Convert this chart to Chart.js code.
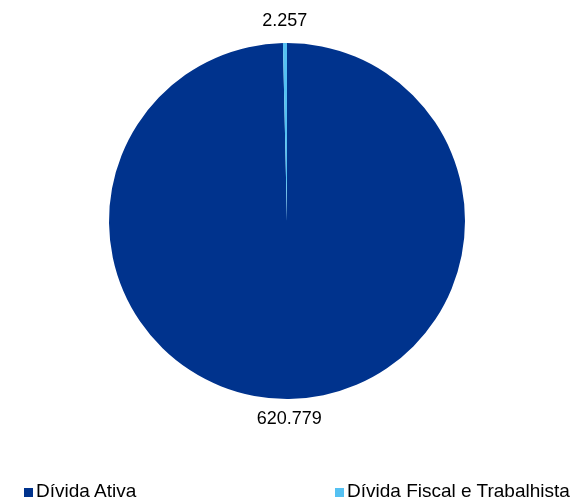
<!DOCTYPE html>
<html>
<head>
<meta charset="utf-8">
<script src="https://cdn.jsdelivr.net/npm/chart.js@4"></script>
<style>
  html, body { margin: 0; padding: 0; background: #fff; }
  #wrap { position: relative; width: 572px; height: 501px; overflow: hidden; }
  #legend { position: absolute; top: 480px; left: 0; width: 572px; font: 19px/22px "Liberation Sans", Arial, sans-serif; color: #000; }
  #legend span.item { position: absolute; top: 0; white-space: nowrap; }
  #legend i { display: inline-block; width: 9px; height: 9px; margin-right: 3px; vertical-align: 0px; }
</style>
</head>
<body>
<div id="wrap">
  <canvas id="chart" width="572" height="501"></canvas>
  <div id="legend"></div>
</div>
<script>
/* dados */
const categories = ['Dívida Ativa', 'Dívida Fiscal e Trabalhista']
const values = [620779, 2257]
const valueLabels = ['620.779', '2.257']
const colors = ['#00338D', '#55C1F2']
const legendX = [24, 335]

// rótulos de valor fora da pizza
const outsideLabels = {
  id: 'outsideLabels',
  afterDatasetsDraw(chart) {
    const ctx = chart.ctx
    const arcs = chart.getDatasetMeta(0).data
    ctx.save()
    ctx.font = '18px "Liberation Sans", Arial, sans-serif'
    ctx.fillStyle = '#000'
    ctx.textAlign = 'center'
    ctx.textBaseline = 'middle'
    arcs.forEach((arc, i) => {
      const mid = (arc.startAngle + arc.endAngle) / 2
      const r = arc.outerRadius + (i === 0 ? 20 : 22)
      ctx.fillText(valueLabels[i], arc.x + Math.cos(mid) * r, arc.y + Math.sin(mid) * r)
    })
    ctx.restore()
  }
}

const chart = new Chart(document.getElementById('chart'), {
  type: 'pie',
  data: {
    labels: categories,
    datasets: [{
      data: values,
      backgroundColor: colors,
      borderWidth: 0
    }]
  },
  options: {
    responsive: false,
    animation: false,
    layout: { padding: { top: 43, bottom: 102, left: 2, right: 0 } },
    plugins: {
      legend: { display: false },
      tooltip: { enabled: false }
    }
  },
  plugins: [outsideLabels]
})

// legenda
const legend = document.getElementById('legend')
categories.forEach((c, i) => {
  const s = document.createElement('span')
  s.className = 'item'
  s.style.left = legendX[i] + 'px'
  s.innerHTML = '<i style="background:' + colors[i] + '"></i>' + c
  legend.appendChild(s)
})
</script>
</body>
</html>
